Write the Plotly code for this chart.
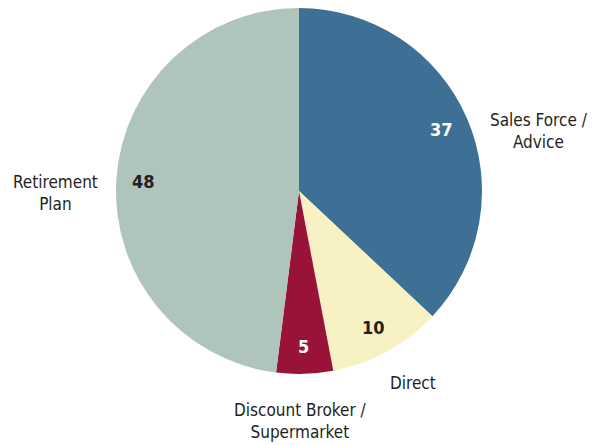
import numpy as np
import plotly.graph_objects as go

categories = ["Sales Force /<br>Advice", "Direct", "Discount Broker /<br>Supermarket", "Retirement<br>Plan"]
values = [37, 10, 5, 48]
colors = ["#3E7096", "#F8F1C3", "#991238", "#AFC4BB"]
value_font_colors = ["#FFFFFF", "#222222", "#FFFFFF", "#222222"]

W, H = 598, 445
CX, CY, R = 299, 191, 183

# outside label anchor positions (pixels)
label_pos = [(539, 131), (413, 383), (300, 421), (56, 193)]

FONT = "DejaVu Sans Condensed, Liberation Sans Narrow, Arial Narrow, sans-serif"

fig = go.Figure(go.Pie(
    values=values,
    labels=[c.replace("<br>", " ") for c in categories],
    marker=dict(colors=colors, line=dict(width=0)),
    sort=False,
    direction="clockwise",
    rotation=0,
    textinfo="none",
    hoverinfo="label+value",
    domain=dict(x=[(CX - R) / W, (CX + R) / W], y=[1 - (CY + R) / H, 1 - (CY - R) / H]),
    showlegend=False,
))

annotations = []
tot = sum(values)
cum = np.cumsum([0] + values[:-1])
for v, c0, fc in zip(values, cum, value_font_colors):
    ang = (c0 + v / 2) / tot * 2 * np.pi
    rr = 0.85 * R
    px = CX + rr * np.sin(ang)
    py = CY - rr * np.cos(ang)
    annotations.append(dict(x=px / W, y=1 - py / H, xref="paper", yref="paper",
                            text=f"<b>{v}</b>", showarrow=False,
                            font=dict(family=FONT, size=18, color=fc),
                            xanchor="center", yanchor="middle"))

for txt, (lx, ly) in zip(categories, label_pos):
    annotations.append(dict(x=lx / W, y=1 - ly / H, xref="paper", yref="paper",
                            text=txt, showarrow=False, align="center",
                            font=dict(family=FONT, size=17, color="#231F20"),
                            xanchor="center", yanchor="middle"))

fig.update_layout(
    width=W, height=H,
    margin=dict(l=0, r=0, t=0, b=0),
    paper_bgcolor="white", plot_bgcolor="white",
    annotations=annotations,
)

fig.write_html("out.html", config={"displayModeBar": False},
               post_script="document.body.style.margin='0px';document.body.style.padding='0px';")
